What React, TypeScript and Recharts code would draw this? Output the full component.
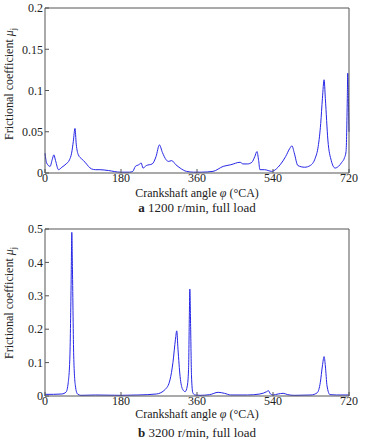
import { LineChart, Line, XAxis, YAxis } from 'recharts'

const FONT = '"Liberation Serif", "Times New Roman", serif'
const AXIS = '#555'
const BLUE = '#2626e6'
const TEXT = '#222'

const xTicks = [0, 180, 360, 540, 720]

// a: 1200 r/min, full load
const yTicksA = [0, 0.05, 0.1, 0.15, 0.2]
const angleA = [
  0, 4, 12, 17, 21, 25, 32, 40, 50, 58, 63, 67, 71, 74, 79, 87, 95, 103, 110, 120,
  130, 150, 178, 200, 208, 214, 222, 228, 232, 240, 254, 263, 271, 278, 287, 292, 300, 310, 320, 335,
  352, 370, 398, 422, 440, 462, 469, 480, 490, 497, 502, 506, 509, 520, 537, 548, 557, 570, 580, 585,
  590, 599, 615, 628, 640, 647, 653, 657, 661, 664, 670, 678, 687, 695, 703, 709, 713, 716, 717, 719,
  720,
]
const muA = [
  0.024, 0.012, 0.008, 0.016, 0.022, 0.015, 0.004, 0.007, 0.011, 0.016, 0.024, 0.038, 0.054, 0.035, 0.022, 0.017, 0.013, 0.008, 0.005, 0.004,
  0.004, 0.003, 0.001, 0.001, 0.002, 0.008, 0.010, 0.012, 0.006, 0.009, 0.011, 0.020, 0.034, 0.025, 0.016, 0.014, 0.015, 0.010, 0.006, 0.002,
  0.001, 0.001, 0.002, 0.008, 0.010, 0.013, 0.011, 0.011, 0.013, 0.020, 0.026, 0.015, 0.004, 0.004, 0.002, 0.005, 0.010, 0.020, 0.030, 0.033,
  0.025, 0.009, 0.007, 0.009, 0.018, 0.032, 0.060, 0.090, 0.113, 0.090, 0.040, 0.015, 0.006, 0.008, 0.013, 0.018, 0.026, 0.090, 0.121, 0.080,
  0.050,
]

// b: 3200 r/min, full load
const yTicksB = [0, 0.1, 0.2, 0.3, 0.4, 0.5]
const angleB = [
  0, 20, 40, 50, 55, 59, 62, 63.5, 65, 68, 72, 77, 85, 120, 180, 220, 264, 285, 296, 303,
  309, 312, 315, 320, 326, 332, 337, 340, 342, 343, 345, 347, 350, 355, 367, 390, 410, 425, 440, 480,
  509, 525, 529, 534, 540, 552, 564, 575, 590, 630, 645, 652, 657, 661, 664, 668, 675, 690, 720,
]
const muB = [
  0.005, 0.005, 0.006, 0.012, 0.04, 0.12, 0.35, 0.49, 0.38, 0.12, 0.03, 0.006, 0.002, 0.003, 0.002, 0.003, 0.006, 0.02, 0.048, 0.10,
  0.17, 0.195, 0.14, 0.058, 0.02, 0.013, 0.03, 0.08, 0.25, 0.32, 0.2, 0.06, 0.01, 0.003, 0.002, 0.004, 0.011, 0.008, 0.003, 0.003,
  0.006, 0.013, 0.016, 0.006, 0.003, 0.006, 0.008, 0.004, 0.002, 0.003, 0.01, 0.04, 0.09, 0.118, 0.09, 0.03, 0.004, 0.003, 0.003,
]

const rowsA = angleA.map((a, i) => ({ angle: a, mu: muA[i] }))
const rowsB = angleB.map((a, i) => ({ angle: a, mu: muB[i] }))

const tickStyle = { fontSize: 12, fontFamily: FONT, fill: TEXT }

function Panel({ data, yMax, yTicks, xAxisHeight }: { data: { angle: number; mu: number }[]; yMax: number; yTicks: number[]; xAxisHeight: number }) {
  return (
    <LineChart width={368} height={220} data={data} margin={{ top: 7, right: 18, left: 0, bottom: 0 }}>
      <XAxis
        xAxisId="bottom"
        type="number"
        dataKey="angle"
        domain={[0, 720]}
        ticks={xTicks}
        height={xAxisHeight}
        tickSize={-4}
        tickMargin={4}
        tick={tickStyle}
        axisLine={{ stroke: AXIS }}
        tickLine={{ stroke: AXIS }}
      />
      <XAxis
        xAxisId="top"
        orientation="top"
        type="number"
        dataKey="angle"
        domain={[0, 720]}
        ticks={xTicks}
        height={1}
        tickSize={-4}
        tick={false}
        axisLine={{ stroke: AXIS }}
        tickLine={{ stroke: AXIS }}
      />
      <YAxis
        yAxisId="left"
        type="number"
        domain={[0, yMax]}
        ticks={yTicks}
        width={45}
        tickSize={-4}
        tickMargin={6}
        tick={tickStyle}
        tickFormatter={(v: number) => String(v)}
        axisLine={{ stroke: AXIS }}
        tickLine={{ stroke: AXIS }}
      />
      <YAxis
        yAxisId="right"
        orientation="right"
        type="number"
        domain={[0, yMax]}
        ticks={yTicks}
        width={1}
        tickSize={-4}
        tick={false}
        axisLine={{ stroke: AXIS }}
        tickLine={{ stroke: AXIS }}
      />
      <Line
        xAxisId="bottom"
        yAxisId="left"
        type="monotone"
        dataKey="mu"
        stroke={BLUE}
        strokeWidth={1}
        dot={false}
        isAnimationActive={false}
      />
      <Line
        xAxisId="top"
        yAxisId="right"
        dataKey="mu"
        stroke="none"
        dot={false}
        activeDot={false}
        legendType="none"
        isAnimationActive={false}
      />
    </LineChart>
  )
}

function YTitle({ top }: { top: number }) {
  return (
    <div
      style={{
        position: 'absolute',
        left: 9 - 80,
        top: top - 8,
        width: 160,
        height: 16,
        lineHeight: '16px',
        textAlign: 'center',
        transform: 'rotate(-90deg)',
        fontFamily: FONT,
        fontSize: 12,
        color: TEXT,
        whiteSpace: 'nowrap',
      }}
    >
      Frictional coefficient <i>μ</i>
      <sub style={{ fontSize: 8 }}>j</sub>
    </div>
  )
}

function CenterText({ top, size, children }: { top: number; size: number; children: React.ReactNode }) {
  return (
    <div
      style={{
        position: 'absolute',
        left: 97,
        top: top - 8,
        width: 200,
        height: 16,
        lineHeight: '16px',
        textAlign: 'center',
        fontFamily: FONT,
        fontSize: size,
        color: TEXT,
        whiteSpace: 'nowrap',
      }}
    >
      {children}
    </div>
  )
}

export default function App() {
  return (
    <div style={{ position: 'absolute', left: 0, top: 0, width: 368, height: 443, background: '#fff', overflow: 'hidden' }}>
      <div style={{ position: 'absolute', left: 0, top: 0 }}>
        <Panel data={rowsA} yMax={0.2} yTicks={yTicksA} xAxisHeight={47} />
      </div>
      <div style={{ position: 'absolute', left: 0, top: 221 }}>
        <Panel data={rowsB} yMax={0.5} yTicks={yTicksB} xAxisHeight={45} />
      </div>
      <YTitle top={84} />
      <YTitle top={303} />
      <CenterText top={193} size={12}>
        Crankshaft angle <i>φ</i> (°CA)
      </CenterText>
      <CenterText top={208} size={13}>
        <b>a</b> 1200 r/min, full load
      </CenterText>
      <CenterText top={414} size={12}>
        Crankshaft angle <i>φ</i> (°CA)
      </CenterText>
      <CenterText top={433} size={13}>
        <b>b</b> 3200 r/min, full load
      </CenterText>
    </div>
  )
}
